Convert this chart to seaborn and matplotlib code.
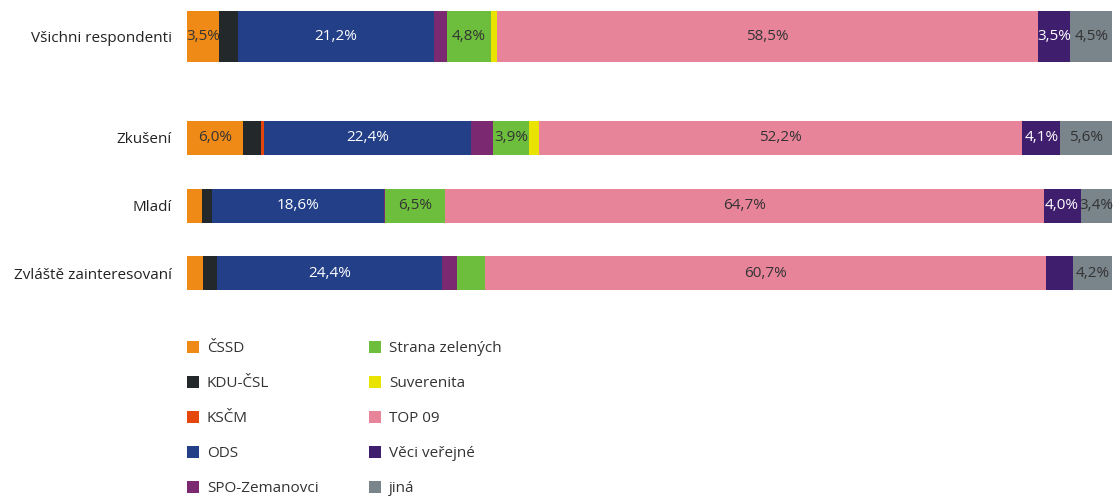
import numpy as np
import matplotlib
matplotlib.use("Agg")
import matplotlib.pyplot as plt
from matplotlib.patches import Patch
import seaborn as sns

groups = ["Všichni respondenti", "Zkušení", "Mladí", "Zvláště zainteresovaní"]
parties = ["ČSSD", "KDU-ČSL", "KSČM", "ODS", "SPO-Zemanovci",
           "Strana zelených", "Suverenita", "TOP 09", "Věci veřejné", "jiná"]
colors = ["#EF8A17", "#23282B", "#E5460B", "#223F87", "#7B2A72",
          "#6DBE3C", "#E9E300", "#E8849A", "#3F1E6E", "#79848B"]

# percentage shares per group (rows: groups, columns: parties)
vsichni = [3.5, 2.0, 0.0, 21.2, 1.4, 4.8, 0.6, 58.5, 3.5, 4.5]
zkuseni = [6.0, 2.0, 0.3, 22.4, 2.4, 3.9, 1.1, 52.2, 4.1, 5.6]
mladi = [1.6, 1.1, 0.0, 18.6, 0.1, 6.5, 0.0, 64.7, 4.0, 3.4]
zvlaste = [1.7, 1.5, 0.0, 24.4, 1.6, 3.0, 0.0, 60.7, 2.9, 4.2]

data = np.array([vsichni, zkuseni, mladi, zvlaste])
label_threshold = 3.3
white_text = {"ODS", "Věci veřejné"}

# layout
positions = np.array([0.0, 1.5, 2.5, 3.5])
widths = [0.754, 0.503]
FS = 11

sns.set_theme(style="white")
plt.rcParams["font.family"] = ["Open Sans", "DejaVu Sans"]

fig = plt.figure(figsize=(11.17, 4.99), dpi=100)
W, H = 1117, 499
ax = fig.add_axes([187 / W, 1 - 304 / H, (1112 - 187) / W, 304 / H])

cum = np.cumsum(data, axis=1)
for k in range(len(parties) - 1, -1, -1):
    sns.barplot(x=cum[:1, k], y=positions[:1], orient="h", native_scale=True,
                width=widths[0], color=colors[k], saturation=1, linewidth=0,
                errorbar=None, ax=ax)
    sns.barplot(x=cum[1:, k], y=positions[1:], orient="h", native_scale=True,
                width=widths[1], color=colors[k], saturation=1, linewidth=0,
                errorbar=None, ax=ax)

for i, pos in enumerate(positions):
    left = 0.0
    for k, p in enumerate(parties):
        v = data[i, k]
        if v >= label_threshold:
            txt = f"{v:.1f}".replace(".", ",") + "%"
            ax.text(left + v / 2, pos, txt, ha="center", va="center",
                    fontsize=FS,
                    color="white" if p in white_text else "#333333")
        left += v

ax.set_xlim(0, 100)
ax.set_ylim(3.957, -0.54)
ax.set_yticks(positions)
ax.set_yticklabels(groups, fontsize=FS, color="#222222")
ax.tick_params(axis="y", length=0, pad=11)
ax.set_xticks([])
ax.set_xlabel("")
ax.set_ylabel("")
sns.despine(ax=ax, left=True, bottom=True)

handles = [Patch(facecolor=c, edgecolor="none") for c in colors]
fig.legend(handles, parties, loc="upper left",
           bbox_to_anchor=(187 / W, 1 - 341 / H), ncol=2, frameon=False,
           fontsize=FS, handlelength=0.8, handleheight=0.8,
           handletextpad=0.5, labelspacing=1.3, columnspacing=3.3,
           borderaxespad=0, borderpad=0, labelcolor="#333333")

fig.savefig("out.png", dpi=100)
